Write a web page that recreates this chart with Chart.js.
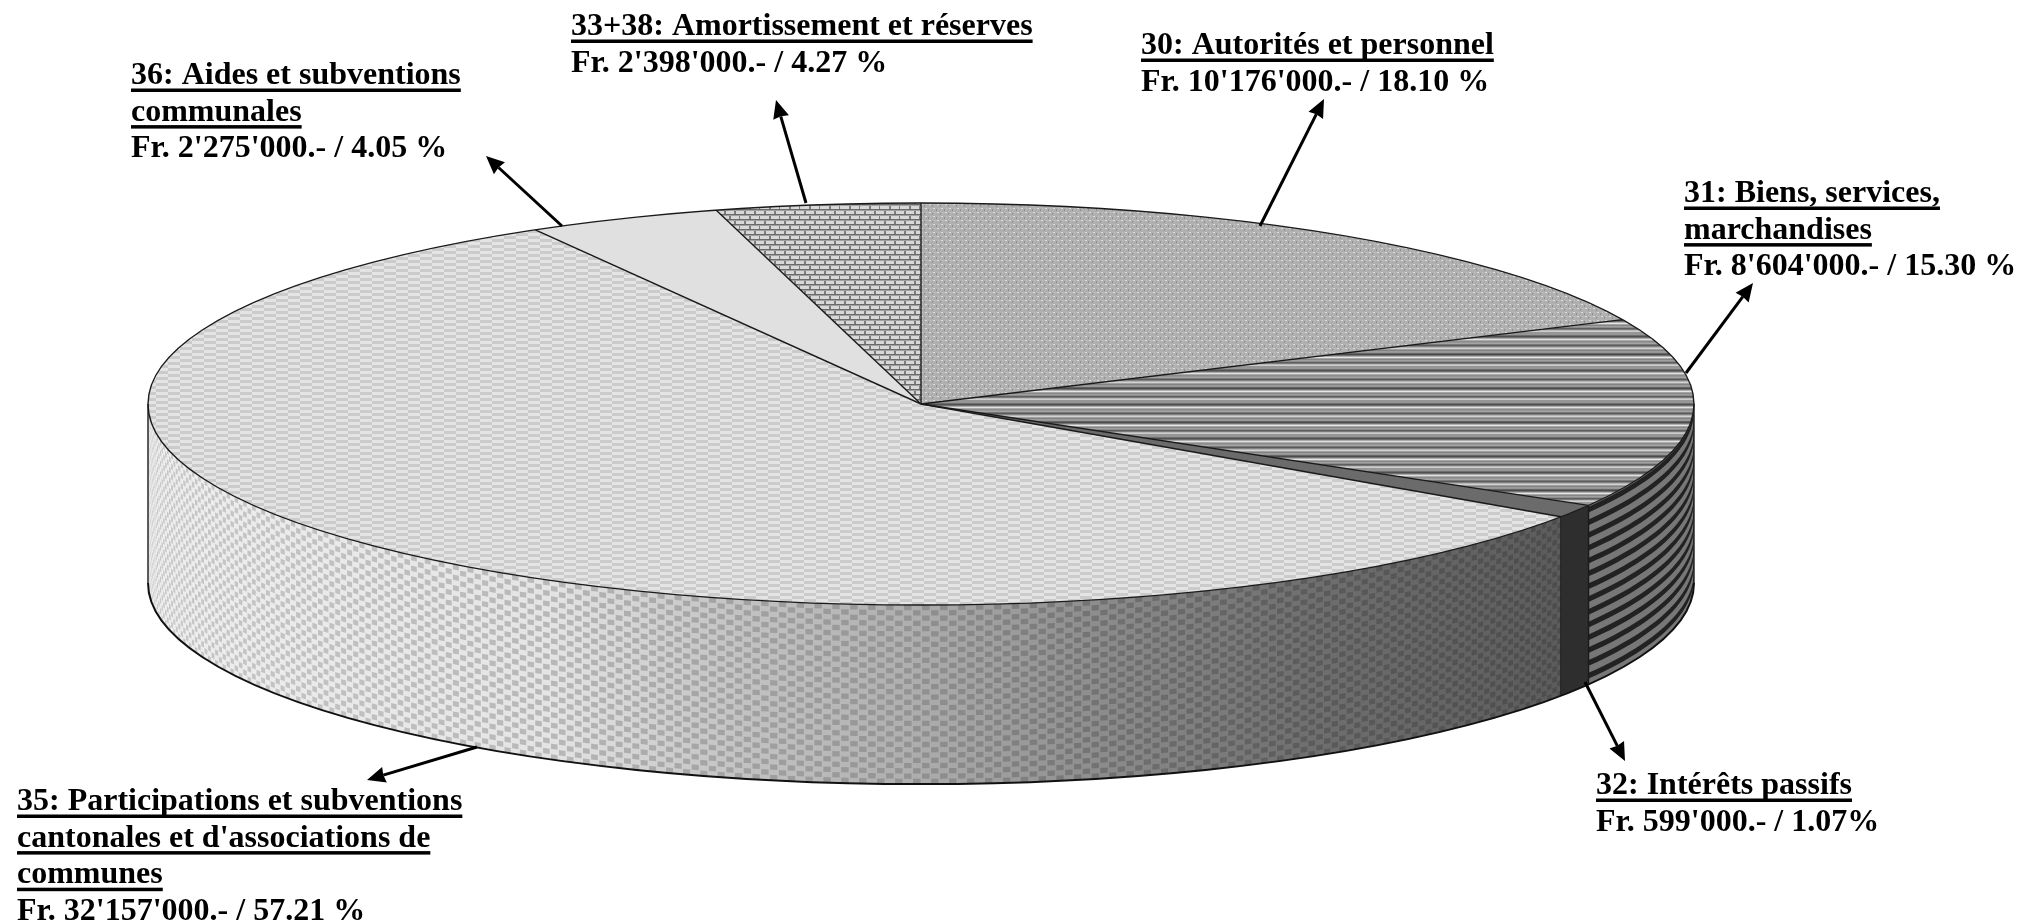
<!DOCTYPE html>
<html lang="fr">
<head>
<meta charset="utf-8">
<title>Charges par nature</title>
<script src="https://cdn.jsdelivr.net/npm/chart.js@4"></script>
<style>
  html, body { margin: 0; background: #fff; }
  canvas { display: block; }
</style>
</head>
<body>
<canvas id="camembert" width="2022" height="924"></canvas>
<script>
// Donnees
const headingLines = [
  ["30: Autorités et personnel"],
  ["31: Biens, services,", "marchandises"],
  ["32: Intérêts passifs"],
  ["35: Participations et subventions", "cantonales et d'associations de", "communes"],
  ["36: Aides et subventions", "communales"],
  ["33+38: Amortissement et réserves"],
];
const amounts = [10176000, 8604000, 599000, 32157000, 2275000, 2398000];
const amountLabels = [
  "Fr. 10'176'000.- / 18.10 %",
  "Fr. 8'604'000.- / 15.30 %",
  "Fr. 599'000.- / 1.07%",
  "Fr. 32'157'000.- / 57.21 %",
  "Fr. 2'275'000.- / 4.05 %",
  "Fr. 2'398'000.- / 4.27 %",
];
const categories = headingLines.map((lines) => lines.join(" "));

// Mise en page : ellipse du dessus et hauteur du cylindre
const RX = 773;
const RY = 201;
const DEPTH = 179;
const SQUASH = RY / RX;
const LINE_HEIGHT = 36.6;
const FONT = "bold 32px 'Liberation Serif'";

// Position du texte (x, premiere ligne de base) et fleche (depart -> pointe)
const labelPos = [
  [1141, 54], [1684, 202], [1596, 794], [17, 810], [131, 84], [571, 35],
];
const arrows = [
  [1260, 226, 1324, 99],
  [1686, 373, 1753, 283],
  [1585, 682, 1625, 761],
  [477, 747, 367, 780],
  [562, 226, 486, 156],
  [806, 203, 776, 100],
];

// Motifs du dessus, dessines pixel par pixel
function makePattern(w, h, paint) {
  const c = document.createElement("canvas");
  c.width = w;
  c.height = h;
  paint(c.getContext("2d"));
  const p = c.getContext("2d").createPattern(c, "repeat");
  // le contexte est ecrase pendant le dessin du camembert : on compense
  p.setTransform(new DOMMatrix().scale(1, 1 / SQUASH));
  return p;
}

const patternWoven = makePattern(8, 8, (g) => {
  g.fillStyle = "#b0b0b0";
  g.fillRect(0, 0, 8, 8);
  g.fillStyle = "#dcdcdc";
  g.fillRect(1, 1, 2, 1);
  g.fillRect(5, 5, 2, 1);
  g.fillStyle = "#909090";
  g.fillRect(4, 2, 1, 2);
  g.fillRect(0, 6, 1, 2);
  g.fillStyle = "#c6c6c6";
  g.fillRect(6, 1, 1, 1);
  g.fillRect(2, 5, 1, 1);
});

const stripeRows = [150, 150, 110, 80, 110, 170, 225, 170, 140, 150, 165, 120, 90, 130, 180, 210, 160, 130,
  155, 150, 100, 75, 115, 175, 230, 165, 135, 160, 140, 95, 120, 185, 205, 150];
const patternStripes = makePattern(4, stripeRows.length, (g) => {
  stripeRows.forEach((v, i) => {
    g.fillStyle = "rgb(" + v + "," + v + "," + v + ")";
    g.fillRect(0, i, 4, 1);
  });
});

const patternCheck = makePattern(24, 6, (g) => {
  g.fillStyle = "#e4e4e4";
  g.fillRect(0, 0, 24, 6);
  g.fillStyle = "#cbcbcb";
  g.fillRect(12, 0, 12, 3);
  g.fillRect(0, 3, 12, 3);
});

const patternBricks = makePattern(20, 10, (g) => {
  g.fillStyle = "#d8d8d8";
  g.fillRect(0, 0, 20, 10);
  g.fillStyle = "#6a6a6a";
  g.fillRect(0, 0, 20, 1);
  g.fillRect(0, 5, 20, 1);
  g.fillStyle = "#a0a0a0";
  g.fillRect(0, 1, 20, 1);
  g.fillRect(0, 6, 20, 1);
  g.fillStyle = "#7a7a7a";
  g.fillRect(4, 2, 2, 3);
  g.fillRect(14, 2, 2, 3);
  g.fillRect(9, 7, 2, 3);
  g.fillRect(19, 7, 1, 3);
});

const topFills = [patternWoven, patternStripes, "#6b6b6b", patternCheck, "#e0e0e0", patternBricks];

// Teintes du flanc de la part 35 selon x : [x, clair, fonce]
const wallShades = [
  [150, 238, 200],
  [550, 228, 184],
  [700, 200, 165],
  [900, 176, 148],
  [1100, 140, 114],
  [1300, 112, 92],
  [1560, 92, 76],
];

function shadeAt(x, col) {
  let i = 0;
  while (i < wallShades.length - 2 && x > wallShades[i + 1][0]) i++;
  const a = wallShades[i];
  const b = wallShades[i + 1];
  const t = Math.min(1, Math.max(0, (x - a[0]) / (b[0] - a[0])));
  const v = Math.round(a[col] + (b[col] - a[col]) * t);
  return "rgb(" + v + "," + v + "," + v + ")";
}

function wallPoint(el, t, v) {
  return [el.x + RX * Math.cos(t), el.y + RY * Math.sin(t) + DEPTH * v];
}

function fillQuad(ctx, el, t0, t1, v0, v1) {
  const steps = Math.max(1, Math.ceil(Math.abs(t1 - t0) / 0.02));
  ctx.beginPath();
  for (let i = 0; i <= steps; i++) {
    const p = wallPoint(el, t0 + ((t1 - t0) * i) / steps, v0);
    if (i === 0) ctx.moveTo(p[0], p[1]);
    else ctx.lineTo(p[0], p[1]);
  }
  for (let i = steps; i >= 0; i--) {
    const p = wallPoint(el, t0 + ((t1 - t0) * i) / steps, v1);
    ctx.lineTo(p[0], p[1]);
  }
  ctx.closePath();
  ctx.fill();
}

// Flanc : damier, rayures ou uni selon la part
function drawChecker(ctx, el, t0, t1) {
  const dt = 0.01164;
  const rows = 34;
  const col0 = Math.floor(t0 / dt);
  const col1 = Math.ceil(t1 / dt);
  for (let c = col0; c < col1; c++) {
    const a = Math.max(t0, c * dt);
    const b = Math.min(t1, (c + 1) * dt);
    const x = wallPoint(el, (a + b) / 2, 0)[0];
    ctx.fillStyle = shadeAt(x, 1);
    fillQuad(ctx, el, a - 0.002, b + 0.002, 0, 1);
    ctx.fillStyle = shadeAt(x, 2);
    for (let r = 0; r < rows; r++) {
      if ((r + c) % 2 === 0) fillQuad(ctx, el, a, b, r / rows, (r + 1) / rows);
    }
  }
}

function drawStripes(ctx, el, t0, t1) {
  const bands = 14;
  ctx.fillStyle = "#777";
  fillQuad(ctx, el, t0, t1, 0, 1);
  ctx.fillStyle = "#222";
  for (let b = 0; b < bands; b++) {
    fillQuad(ctx, el, t0, t1, (b + 0.1) / bands, (b + 0.55) / bands);
  }
}

function drawSolid(ctx, el, t0, t1) {
  ctx.fillStyle = "#2e2e2e";
  fillQuad(ctx, el, t0, t1, 0, 1);
}

const wallPainters = { 1: drawStripes, 2: drawSolid, 3: drawChecker };

function strokeArc(ctx, el, t0, t1, dy) {
  ctx.beginPath();
  ctx.ellipse(el.x, el.y + dy, RX, RY, 0, t0, t1);
  ctx.stroke();
}

function drawArrow(ctx, a) {
  const angle = Math.atan2(a[3] - a[1], a[2] - a[0]);
  const len = 20;
  const neck = [a[2] - Math.cos(angle) * (len - 3), a[3] - Math.sin(angle) * (len - 3)];
  ctx.strokeStyle = "#000";
  ctx.lineWidth = 3;
  ctx.beginPath();
  ctx.moveTo(a[0], a[1]);
  ctx.lineTo(neck[0], neck[1]);
  ctx.stroke();
  ctx.fillStyle = "#000";
  ctx.beginPath();
  ctx.moveTo(a[2], a[3]);
  ctx.lineTo(a[2] - len * Math.cos(angle - 0.42), a[3] - len * Math.sin(angle - 0.42));
  ctx.lineTo(neck[0], neck[1]);
  ctx.lineTo(a[2] - len * Math.cos(angle + 0.42), a[3] - len * Math.sin(angle + 0.42));
  ctx.closePath();
  ctx.fill();
}

function drawLabel(ctx, i) {
  const x = labelPos[i][0];
  let y = labelPos[i][1];
  ctx.font = FONT;
  ctx.textBaseline = "alphabetic";
  ctx.textAlign = "left";
  ctx.fillStyle = "#000";
  headingLines[i].forEach((line) => {
    ctx.fillText(line, x, y);
    ctx.fillRect(x, y + 4.5, ctx.measureText(line).width, 3.5);
    y += LINE_HEIGHT;
  });
  ctx.fillText(amountLabels[i], x, y);
}

const pie3d = {
  id: "pie3d",
  beforeDatasetsDraw(chart) {
    const ctx = chart.ctx;
    const arcs = chart.getDatasetMeta(0).data;
    const el = arcs[0];
    // flanc visible : moitie avant du cylindre
    arcs.forEach((arc, i) => {
      const t0 = Math.max(arc.startAngle, 0);
      const t1 = Math.min(arc.endAngle, Math.PI);
      if (t1 > t0 && wallPainters[i]) wallPainters[i](ctx, el, t0, t1);
    });
    // ecrase le disque de Chart.js en ellipse
    ctx.save();
    ctx.translate(el.x, el.y);
    ctx.scale(1, SQUASH);
    ctx.translate(-el.x, -el.y);
  },
  afterDatasetsDraw(chart) {
    const ctx = chart.ctx;
    ctx.restore();
    const arcs = chart.getDatasetMeta(0).data;
    const el = arcs[0];

    ctx.strokeStyle = "#1a1a1a";
    ctx.lineWidth = 1.4;
    strokeArc(ctx, el, 0, Math.PI * 2, 0);
    arcs.forEach((arc) => {
      ctx.beginPath();
      ctx.moveTo(el.x, el.y);
      ctx.lineTo(el.x + RX * Math.cos(arc.startAngle), el.y + RY * Math.sin(arc.startAngle));
      ctx.stroke();
      // aretes verticales du flanc
      if (arc.startAngle > 0 && arc.startAngle < Math.PI) {
        const p = wallPoint(el, arc.startAngle, 0);
        ctx.beginPath();
        ctx.moveTo(p[0], p[1]);
        ctx.lineTo(p[0], p[1] + DEPTH);
        ctx.stroke();
      }
    });
    [0, Math.PI].forEach((t) => {
      const p = wallPoint(el, t, 0);
      ctx.beginPath();
      ctx.moveTo(p[0], p[1]);
      ctx.lineTo(p[0], p[1] + DEPTH);
      ctx.stroke();
    });
    ctx.lineWidth = 2;
    ctx.strokeStyle = "#111";
    strokeArc(ctx, el, 0, Math.PI, DEPTH);

    arrows.forEach((a) => drawArrow(ctx, a));
    headingLines.forEach((_, i) => drawLabel(ctx, i));
  },
};

new Chart(document.getElementById("camembert"), {
  type: "pie",
  data: {
    labels: categories,
    datasets: [
      {
        data: amounts,
        backgroundColor: topFills,
        borderWidth: 0,
        clip: false,
      },
    ],
  },
  options: {
    responsive: false,
    animation: false,
    radius: RX,
    layout: { padding: { right: 180, bottom: 116 } },
    plugins: { legend: { display: false }, tooltip: { enabled: false } },
  },
  plugins: [pie3d],
});
</script>
</body>
</html>
